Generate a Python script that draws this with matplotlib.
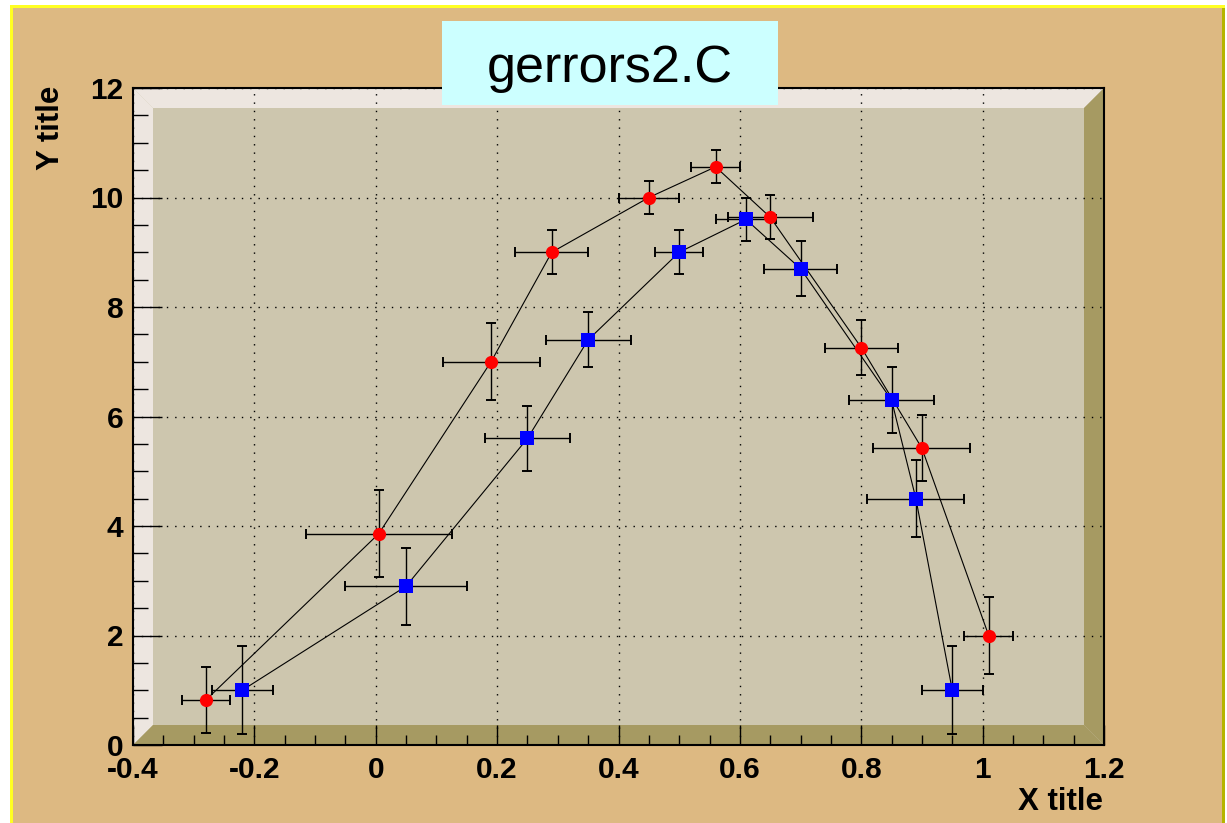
import matplotlib
matplotlib.use('Agg')
import matplotlib.pyplot as plt
from matplotlib.patches import Polygon, Rectangle
from matplotlib.ticker import MultipleLocator

plt.rcParams['font.family'] = ['Liberation Sans', 'DejaVu Sans']

# graph 1 : blue squares
x1 = [-0.22, 0.05, 0.25, 0.35, 0.5, 0.61, 0.7, 0.85, 0.89, 0.95]
y1 = [1, 2.9, 5.6, 7.4, 9, 9.6, 8.7, 6.3, 4.5, 1]
ex1 = [.05, .1, .07, .07, .04, .05, .06, .07, .08, .05]
ey1 = [.8, .7, .6, .5, .4, .4, .5, .6, .7, .8]

# graph 2 : red circles
x2 = [-0.28, 0.005, 0.19, 0.29, 0.45, 0.56, 0.65, 0.80, 0.90, 1.01]
y2 = [0.82, 3.86, 7, 9, 10, 10.56, 9.64, 7.26, 5.42, 2]
ex2 = [.04, .12, .08, .06, .05, .04, .07, .06, .08, .04]
ey2 = [.6, .8, .7, .4, .3, .3, .4, .5, .6, .7]

W, H = 1227, 823
canvas_col = '#DDB982'
inner_col = '#CDC6AE'
light_col = '#EDE6E0'
dark_col = '#A69A62'

fig = plt.figure(figsize=(W / 100, H / 100), dpi=100, facecolor='white')

def fx(px):
  return px / W

def fy(py):
  return 1 - py / H

# canvas with bevelled yellow border
fig.patches.append(Rectangle((fx(10), fy(830)), fx(1225) - fx(10), fy(5) - fy(830),
  transform=fig.transFigure, facecolor=canvas_col, edgecolor='none', zorder=-10))
fig.patches.append(Rectangle((fx(10), fy(830)), fx(13) - fx(10), fy(5) - fy(830),
  transform=fig.transFigure, facecolor='#FFFF22', edgecolor='none', zorder=-9))
fig.patches.append(Rectangle((fx(10), fy(8)), fx(1225) - fx(10), fy(5) - fy(8),
  transform=fig.transFigure, facecolor='#FFFF22', edgecolor='none', zorder=-9))
fig.patches.append(Rectangle((fx(1222), fy(830)), fx(1225) - fx(1222), fy(8) - fy(830),
  transform=fig.transFigure, facecolor='#B5B500', edgecolor='none', zorder=-9))

ax = fig.add_axes([fx(133), fy(745), fx(1104) - fx(133), fy(88) - fy(745)])
ax.set_facecolor(inner_col)

# 3D frame bevel
dx = 20 / 971
dy = 20 / 657
bevels = [
  ([(0, 0), (dx, dy), (dx, 1 - dy), (0, 1)], light_col),
  ([(0, 1), (dx, 1 - dy), (1 - dx, 1 - dy), (1, 1)], light_col),
  ([(1, 1), (1 - dx, 1 - dy), (1 - dx, dy), (1, 0)], dark_col),
  ([(0, 0), (dx, dy), (1 - dx, dy), (1, 0)], dark_col),
]
for pts, c in bevels:
  ax.add_patch(Polygon(pts, closed=True, transform=ax.transAxes,
    facecolor=c, edgecolor='none', zorder=0.1))

ax.set_xlim(-0.4, 1.2)
ax.set_ylim(0, 12)
ax.xaxis.set_major_locator(MultipleLocator(0.2))
ax.xaxis.set_minor_locator(MultipleLocator(0.05))
ax.yaxis.set_major_locator(MultipleLocator(2))
ax.yaxis.set_minor_locator(MultipleLocator(0.5))
ax.set_axisbelow(True)
ax.grid(True, which='major', color='black', linestyle=(0, (1, 5)), linewidth=1.0)

ax.tick_params(axis='x', which='major', direction='in', length=14.4, width=1, pad=8,
  labelsize=21.5)
ax.tick_params(axis='x', which='minor', direction='in', length=7.2, width=1)
ax.tick_params(axis='y', which='major', direction='in', length=21, width=1, pad=7,
  labelsize=21.5)
ax.tick_params(axis='y', which='minor', direction='in', length=10.8, width=1)
for lab in ax.get_xticklabels() + ax.get_yticklabels():
  lab.set_fontweight('bold')

def fmt(v, pos):
  s = '%g' % round(v, 6)
  return s
ax.xaxis.set_major_formatter(plt.FuncFormatter(fmt))
ax.yaxis.set_major_formatter(plt.FuncFormatter(fmt))

for s in ax.spines.values():
  s.set_color('black')
  s.set_linewidth(1.5)
  s.set_zorder(5)

# graphs
ax.plot(x1, y1, color='black', linewidth=0.8, zorder=3)
ax.errorbar(x1, y1, xerr=ex1, yerr=ey1, fmt='none', ecolor='black', elinewidth=1,
  capsize=3.3, capthick=1.4, zorder=3)
ax.plot(x1, y1, linestyle='none', marker='s', markersize=9.5, color='blue',
  markeredgewidth=0, zorder=4)

ax.plot(x2, y2, color='black', linewidth=0.8, zorder=3)
ax.errorbar(x2, y2, xerr=ex2, yerr=ey2, fmt='none', ecolor='black', elinewidth=1,
  capsize=3.3, capthick=1.4, zorder=3)
ax.plot(x2, y2, linestyle='none', marker='o', markersize=9.5, color='red',
  markeredgewidth=0, zorder=4)

# axis titles
fig.text(fx(51), fy(86), 'Y title', rotation=90, ha='center', va='top',
  fontsize=22.5, fontweight='bold')
fig.text(fx(1103), fy(810), 'X title', ha='right', va='baseline',
  fontsize=22.5, fontweight='bold')

# title box
fig.patches.append(Rectangle((fx(442), fy(105)), fx(778) - fx(442), fy(21) - fy(105),
  transform=fig.transFigure, facecolor='#CCFFFF', edgecolor='none', zorder=10))
fig.text(fx(610), fy(82), 'gerrors2.C', ha='center', va='baseline', fontsize=37.5,
  zorder=11)

fig.savefig('out.png', dpi=100, facecolor=fig.get_facecolor())
